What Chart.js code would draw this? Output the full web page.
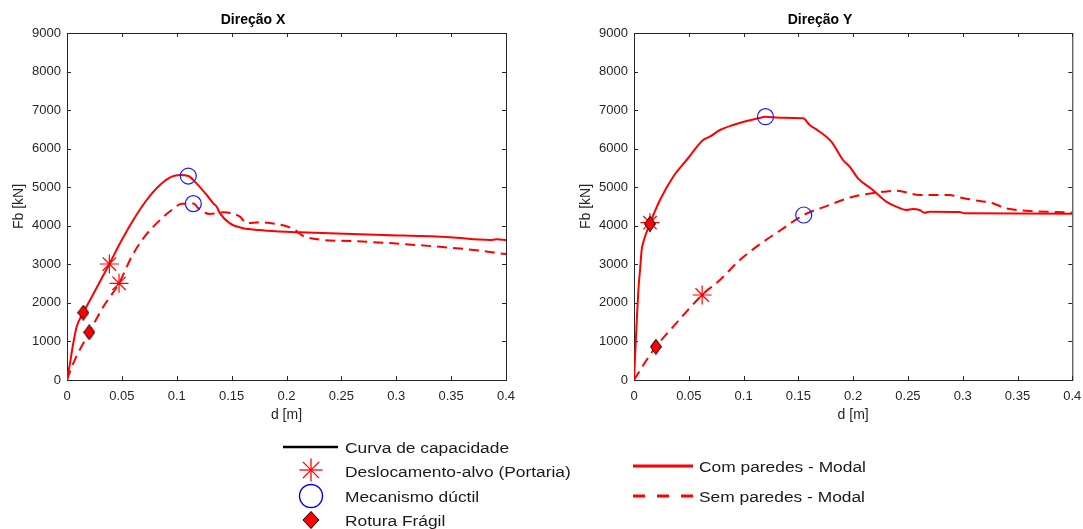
<!DOCTYPE html>
<html>
<head>
<meta charset="utf-8">
<script src="https://cdn.jsdelivr.net/npm/chart.js@4/dist/chart.umd.min.js"></script>
<style>
  html, body { margin: 0; padding: 0; background: #fff; overflow: hidden; }
  body { width: 1083px; height: 529px; position: relative; font-family: "Liberation Sans", Arial, sans-serif; }
  canvas { position: absolute; top: 0; }
  #chartX { left: 0; }
  #chartY { left: 567px; }
  .leg { position: absolute; font-size: 15.5px; color: #1a1a1a; white-space: nowrap; transform: scaleX(1.12); transform-origin: left center; line-height: 18px; }
  #legendSymbols { position: absolute; left: 0; top: 0; }
</style>
</head>
<body>
<canvas id="chartX" width="520" height="430"></canvas>
<canvas id="chartY" width="516" height="430"></canvas>

<svg id="legendSymbols" width="1083" height="529">
  <!-- Curva de capacidade -->
  <line x1="283" y1="447" x2="338" y2="447" stroke="#000" stroke-width="2.5"/>
  <!-- Deslocamento-alvo -->
  <g stroke="#ff0000" stroke-width="1.3">
    <line x1="311" y1="458.5" x2="311" y2="481.5"/>
    <line x1="299.5" y1="470" x2="322.5" y2="470"/>
    <line x1="302.9" y1="461.9" x2="319.1" y2="478.1"/>
    <line x1="302.9" y1="478.1" x2="319.1" y2="461.9"/>
  </g>
  <!-- Mecanismo dúctil -->
  <ellipse cx="311" cy="496" rx="11.5" ry="11.5" fill="none" stroke="#0000ff" stroke-width="1.4"/>
  <!-- Rotura Frágil -->
  <polygon points="311,511.5 319,520 311,528.5 303,520" fill="#ff0000" stroke="#000" stroke-width="1"/>
  <!-- Com / Sem paredes -->
  <line x1="633" y1="466" x2="693" y2="466" stroke="#ff0000" stroke-width="3"/>
  <line x1="633" y1="496" x2="693" y2="496" stroke="#ff0000" stroke-width="3" stroke-dasharray="12 12"/>
</svg>
<div class="leg" style="left:345px; top:439px;">Curva de capacidade</div>
<div class="leg" style="left:345px; top:463px;">Deslocamento-alvo (Portaria)</div>
<div class="leg" style="left:345px; top:488px;">Mecanismo dúctil</div>
<div class="leg" style="left:345px; top:512px;">Rotura Frágil</div>
<div class="leg" style="left:699px; top:458px;">Com paredes - Modal</div>
<div class="leg" style="left:699px; top:488px;">Sem paredes - Modal</div>

<script>
// Capacity curves, direction X (d in m, Fb in kN)
const xComD = [0, 0.0027, 0.0057, 0.0088, 0.0149, 0.024, 0.0386, 0.0483, 0.0604, 0.0726, 0.0847, 0.0954, 0.103, 0.1105, 0.118, 0.1273, 0.1333, 0.1364, 0.1394, 0.1485, 0.1607, 0.1759, 0.182, 0.2123, 0.288, 0.349, 0.3854, 0.3915, 0.4];
const xComF = [0, 433, 952, 1383, 1746, 2230, 3008, 3545, 4150, 4669, 5057, 5273, 5317, 5290, 5100, 4798, 4582, 4495, 4323, 4064, 3934, 3890, 3873, 3830, 3761, 3701, 3631, 3649, 3631];
const xSemD = [0, 0.0057, 0.0203, 0.0331, 0.0474, 0.0589, 0.0695, 0.0832, 0.0954, 0.1045, 0.1151, 0.1212, 0.1303, 0.1424, 0.1576, 0.1637, 0.1759, 0.191, 0.2062, 0.2153, 0.2335, 0.2579, 0.3186, 0.3793, 0.3945, 0.4];
const xSemF = [0, 433, 1237, 1901, 2508, 3198, 3675, 4106, 4409, 4570, 4575, 4409, 4305, 4348, 4236, 4064, 4090, 4046, 3916, 3735, 3631, 3605, 3501, 3346, 3286, 3270];

// Capacity curves, direction Y
const yComD = [0, 0.0024, 0.004, 0.0055, 0.007, 0.0091, 0.0146, 0.0237, 0.0358, 0.048, 0.0631, 0.0692, 0.0784, 0.0905, 0.1027, 0.1133, 0.12, 0.133, 0.1543, 0.1604, 0.1695, 0.1801, 0.1907, 0.1968, 0.2044, 0.218, 0.2302, 0.2394, 0.2485, 0.2545, 0.2606, 0.2651, 0.2697, 0.297, 0.3016, 0.4];
const yComF = [0, 1470, 2334, 2853, 3372, 3631, 4064, 4669, 5273, 5706, 6225, 6311, 6484, 6614, 6717, 6787, 6829, 6803, 6787, 6614, 6440, 6181, 5706, 5533, 5231, 4928, 4625, 4495, 4409, 4435, 4409, 4340, 4366, 4357, 4323, 4310];
const ySemD = [0, 0.0085, 0.02, 0.0358, 0.0622, 0.0784, 0.0966, 0.1148, 0.133, 0.1549, 0.1756, 0.1998, 0.2211, 0.2394, 0.2606, 0.2879, 0.297, 0.3061, 0.3274, 0.3395, 0.3578, 0.4];
const ySemF = [0, 389, 864, 1383, 2205, 2594, 3112, 3520, 3870, 4280, 4510, 4754, 4858, 4910, 4798, 4798, 4738, 4686, 4582, 4452, 4392, 4340];

// Performance points [com paredes, sem paredes]
const xAlvoD = [0.0386, 0.0474],  xAlvoF = [3008, 2508];
const xDuctilD = [0.1105, 0.1151], xDuctilF = [5290, 4575];
const xFragilD = [0.0149, 0.0203], xFragilF = [1746, 1237];
const yAlvoD = [0.0146, 0.0622],  yAlvoF = [4080, 2205];
const yDuctilD = [0.12, 0.1549],  yDuctilF = [6829, 4280];
const yFragilD = [0.0146, 0.02],  yFragilF = [4050, 864];

const xTicks = [0, 0.05, 0.1, 0.15, 0.2, 0.25, 0.3, 0.35, 0.4];
const yTicks = [0, 1000, 2000, 3000, 4000, 5000, 6000, 7000, 8000, 9000];

const toPts = (d, f) => d.map((v, i) => ({ x: v, y: f[i] }));

Chart.defaults.font.family = '"Liberation Sans", Arial, sans-serif';
Chart.defaults.color = '#262626';

// diamond marker with black edge
function diamondMarker(w, h) {
  const c = document.createElement('canvas');
  c.width = w; c.height = h;
  const g = c.getContext('2d');
  g.beginPath();
  g.moveTo(w / 2, 0.5); g.lineTo(w - 0.5, h / 2); g.lineTo(w / 2, h - 0.5); g.lineTo(0.5, h / 2);
  g.closePath();
  g.fillStyle = '#ff0000'; g.fill();
  g.strokeStyle = '#000'; g.lineWidth = 1; g.stroke();
  return c;
}
const diamond = diamondMarker(12, 16);

// box around the axes with inward ticks on all four sides
const axesBox = {
  id: 'axesBox',
  beforeDatasetsDraw(chart) {
    const { ctx, chartArea: a, scales: { x, y } } = chart;
    ctx.save();
    ctx.strokeStyle = '#262626';
    ctx.lineWidth = 1;
    ctx.strokeRect(a.left + 0.5, a.top + 0.5, a.right - a.left, a.bottom - a.top);
    ctx.beginPath();
    x.ticks.forEach(t => {
      const px = Math.round(x.getPixelForValue(t.value)) + 0.5;
      ctx.moveTo(px, a.bottom); ctx.lineTo(px, a.bottom - 4);
      ctx.moveTo(px, a.top); ctx.lineTo(px, a.top + 4);
    });
    y.ticks.forEach(t => {
      const py = Math.round(y.getPixelForValue(t.value)) + 0.5;
      ctx.moveTo(a.left, py); ctx.lineTo(a.left + 4, py);
      ctx.moveTo(a.right, py); ctx.lineTo(a.right - 4, py);
    });
    ctx.stroke();
    ctx.restore();
  }
};

function makeChart(id, title, com, sem, alvo, ductil, fragil, padRight) {
  const line = (data, dash) => ({
    data, showLine: true, borderColor: '#ff0000', borderWidth: 2, borderDash: dash,
    pointRadius: 0, cubicInterpolationMode: 'monotone', fill: false
  });
  return new Chart(document.getElementById(id), {
    type: 'scatter',
    data: {
      datasets: [
        { data: fragil, pointStyle: diamond, pointRadius: 8 },
        { data: ductil, pointStyle: 'circle', pointRadius: 8, borderColor: '#1a1aff', backgroundColor: 'rgba(0,0,0,0)', borderWidth: 1.2 },
        { data: alvo, pointStyle: 'star', pointRadius: 9.5, borderColor: '#ff0000', borderWidth: 1.2 },
        line(com, []),
        line(sem, [10, 6])
      ]
    },
    options: {
      responsive: false,
      animation: false,
      events: [],
      layout: { padding: { left: 0, right: padRight, top: 0, bottom: 0 } },
      plugins: {
        legend: { display: false },
        tooltip: { enabled: false },
        title: {
          display: true, text: title, color: '#000',
          font: { size: 14, weight: 'bold' },
          padding: { top: 12, bottom: 4.2 }
        }
      },
      scales: {
        x: {
          type: 'linear', min: 0, max: 0.4,
          afterBuildTicks: s => { s.ticks = xTicks.map(v => ({ value: v })); },
          afterFit: s => { s.height = 50; s.paddingLeft = 0; s.paddingRight = 0; },
          ticks: { font: { size: 13 }, padding: 9, maxRotation: 0, autoSkip: false, callback: v => String(+v.toFixed(2)) },
          grid: { display: false, drawTicks: false },
          border: { display: false },
          title: { display: true, text: 'd [m]', font: { size: 14 }, padding: { top: 0, bottom: 6.6 } }
        },
        y: {
          type: 'linear', min: 0, max: 9000,
          afterBuildTicks: s => { s.ticks = yTicks.map(v => ({ value: v })); },
          afterFit: s => { s.width = 67; },
          ticks: { font: { size: 13 }, padding: 6, callback: v => String(v) },
          grid: { display: false, drawTicks: false },
          border: { display: false },
          title: { display: true, text: 'Fb [kN]', font: { size: 14 }, padding: { top: 11, bottom: 0 } }
        }
      }
    },
    plugins: [axesBox]
  });
}

makeChart('chartX', 'Direção X', toPts(xComD, xComF), toPts(xSemD, xSemF),
  toPts(xAlvoD, xAlvoF), toPts(xDuctilD, xDuctilF), toPts(xFragilD, xFragilF), 14);
makeChart('chartY', 'Direção Y', toPts(yComD, yComF), toPts(ySemD, ySemF),
  toPts(yAlvoD, yAlvoF), toPts(yDuctilD, yDuctilF), toPts(yFragilD, yFragilF), 10);
</script>
</body>
</html>
